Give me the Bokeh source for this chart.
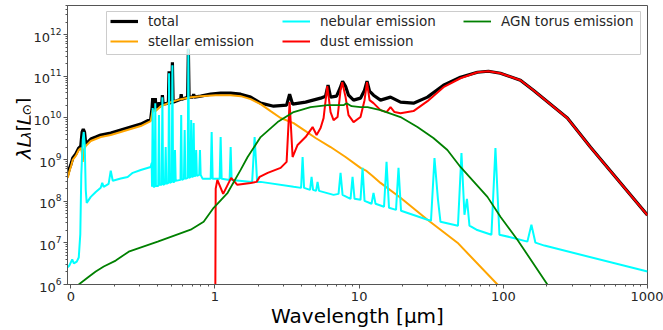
from bokeh.plotting import figure
from bokeh.layouts import row
from bokeh.models import (FixedTicker, CustomJSTickFormatter, LogTickFormatter,
                          Legend, LegendItem, Range1d, BoxAnnotation)
from bokeh.core.properties import value
from bokeh.embed import file_html
from bokeh.resources import INLINE
import math

# ---- SED components: wavelength [micron], lambda*L_lambda [L_sun] ----
wave_total = [0.0953, 0.0976, 0.1000, 0.1032, 0.1083, 0.1136, 0.1173, 0.1198, 0.1221, 0.1246,
              0.1270, 0.1376, 0.1490, 0.1614, 0.1893, 0.2221, 0.2604, 0.3056, 0.3584, 0.3660,
              0.3700, 0.3741, 0.3820, 0.3857, 0.3894, 0.4045, 0.4090, 0.4136, 0.4272, 0.4320,
              0.4368, 0.4753, 0.4806, 0.4860, 0.5011, 0.5068, 0.5125, 0.5783, 0.5832, 0.5897,
              0.6467, 0.6540, 0.6614, 0.7036, 0.7116, 0.7196, 0.7960, 0.9337, 1.095, 1.285,
              1.507, 1.768, 2.074, 2.552, 3.140, 3.294, 3.455, 4.251, 5.402, 5.850,
              6.087, 6.337, 6.970, 7.375, 7.674, 8.050, 8.440, 9.146, 10.22, 10.90,
              11.34, 11.81, 12.58, 14.07, 16.51, 19.36, 23.82, 29.79, 38.46, 50.43,
              66.14, 78.83, 95.48, 131.4, 161.7, 278.0, 401.5, 1000.0]
lum_total = [4.28e8, 5.96e8, 7.43e8, 1.09e9, 1.36e9, 1.89e9, 2.11e9, 4.57e9, 5.40e9, 4.57e9,
             2.36e9, 3.11e9, 3.47e9, 3.88e9, 4.33e9, 5.11e9, 6.03e9, 7.11e9, 9.36e9, 1.72e10,
             2.98e10, 1.72e10, 1.72e10, 2.98e10, 1.81e10, 1.91e10, 2.39e10, 1.91e10, 2.02e10, 3.51e10,
             2.14e10, 2.26e10, 1.32e11, 2.26e10, 2.39e10, 2.16e11, 2.39e10, 2.82e10, 3.71e10, 2.82e10,
             3.15e10, 4.43e11, 3.15e10, 3.15e10, 3.71e10, 3.15e10, 3.33e10, 3.71e10, 3.92e10, 3.92e10,
             3.71e10, 3.15e10, 2.26e10, 1.91e10, 2.02e10, 3.71e10, 2.14e10, 2.39e10, 2.98e10, 3.33e10,
             6.10e10, 3.15e10, 3.33e10, 5.16e10, 7.59e10, 5.77e10, 3.51e10, 2.67e10, 2.98e10, 4.62e10,
             7.59e10, 4.38e10, 3.51e10, 2.67e10, 3.15e10, 2.39e10, 2.26e10, 3.15e10, 6.10e10, 9.46e10,
             1.25e11, 1.32e11, 1.18e11, 8.02e10, 4.62e10, 9.89e9, 2.00e9, 4.60e7]

wave_stellar = [0.0953, 0.0976, 0.1000, 0.1032, 0.1083, 0.1136, 0.1173, 0.1192, 0.1211, 0.1230,
                0.1270, 0.1376, 0.1490, 0.1614, 0.1893, 0.2221, 0.2604, 0.3056, 0.3470, 0.3584,
                0.3700, 0.3880, 0.4205, 0.4941, 0.5794, 0.6796, 0.7973, 1.011, 1.285, 1.507,
                1.768, 2.074, 2.432, 2.853, 3.512, 4.251, 4.988, 6.337, 8.050, 10.22,
                11.25, 12.39, 14.07, 19.36, 29.79, 48.08, 91.03, 112.0]
lum_stellar = [3.63e8, 5.05e8, 6.65e8, 9.80e8, 1.22e9, 1.70e9, 1.89e9, 1.52e9, 8.80e8, 1.70e9,
               2.11e9, 2.79e9, 3.11e9, 3.47e9, 3.88e9, 4.57e9, 5.40e9, 6.37e9, 7.94e9, 8.38e9,
               1.54e10, 1.46e10, 1.91e10, 2.39e10, 2.82e10, 3.15e10, 3.33e10, 3.51e10, 3.51e10, 3.33e10,
               2.82e10, 2.14e10, 1.46e10, 9.96e9, 7.51e9, 4.83e9, 3.29e9, 2.00e9, 1.15e9, 6.30e8,
               5.34e8, 4.05e8, 2.75e8, 1.21e8, 3.59e7, 1.01e7, 1.00e6, 4.60e5]

wave_nebular = [0.0953, 0.0977, 0.1023, 0.1050, 0.1100, 0.1136, 0.1164, 0.1183, 0.1211, 0.1230,
                0.1250, 0.1270, 0.1290, 0.1376, 0.1490, 0.1613, 0.1653, 0.1690, 0.1830, 0.1893,
                0.1955, 0.2220, 0.2480, 0.2690, 0.3057, 0.3584, 0.3641, 0.3660, 0.3700, 0.3741,
                0.3820, 0.3857, 0.3894, 0.4045, 0.4090, 0.4136, 0.4272, 0.4320, 0.4368, 0.4501,
                0.4552, 0.4603, 0.4753, 0.4806, 0.4860, 0.5011, 0.5068, 0.5125, 0.5223, 0.5282,
                0.5342, 0.5767, 0.5832, 0.5897, 0.6096, 0.6166, 0.6235, 0.6467, 0.6540, 0.6614,
                0.6763, 0.6839, 0.6915, 0.7036, 0.7116, 0.7196, 0.7325, 0.7407, 0.7490, 0.7783,
                0.7872, 0.7960, 0.8219, 0.9337, 0.9487, 0.9640, 1.078, 1.095, 1.113, 1.264,
                1.285, 1.305, 1.811, 1.884, 1.961, 2.074, 3.512, 3.958, 4.054, 4.151,
                4.567, 4.678, 4.791, 5.026, 5.148, 5.273, 6.647, 7.197, 7.431, 7.674,
                8.717, 9.000, 9.292, 10.22, 10.56, 10.90, 12.19, 12.58, 12.99, 14.88,
                15.49, 16.11, 18.02, 18.75, 19.52, 29.79, 31.50, 33.31, 35.23, 36.66,
                48.46, 51.25, 53.76, 55.95, 58.23, 65.10, 82.71, 88.18, 93.97, 115.6,
                146.9, 156.6, 167.0, 192.7, 1000.0]
lum_nebular = [2.60e6, 2.85e6, 4.00e6, 3.20e6, 3.55e6, 4.45e6, 1.60e7, 4.30e8, 2.95e9, 4.60e9,
               2.24e9, 1.86e8, 9.10e7, 1.27e8, 1.66e8, 2.10e8, 2.75e8, 2.20e8, 2.60e8, 5.40e8,
               3.10e8, 3.50e8, 3.80e8, 4.80e8, 5.60e8, 6.65e8, 8.30e8, 2.21e8, 1.72e10, 2.21e8,
               2.21e8, 2.26e10, 2.33e8, 2.33e8, 1.17e10, 2.47e8, 2.47e8, 3.15e10, 2.47e8, 2.61e8,
               2.00e9, 2.61e8, 2.75e8, 1.18e11, 2.75e8, 2.91e8, 1.83e11, 2.91e8, 2.91e8, 1.70e9,
               3.08e8, 3.25e8, 1.17e10, 3.25e8, 3.44e8, 5.11e9, 3.44e8, 3.63e8, 4.68e11, 3.63e8,
               3.84e8, 8.85e9, 3.84e8, 3.84e8, 7.51e9, 4.05e8, 4.05e8, 1.70e9, 4.05e8, 4.28e8,
               1.70e9, 4.28e8, 3.44e8, 3.44e8, 4.57e9, 3.44e8, 3.44e8, 3.47e9, 3.44e8, 3.25e8,
               2.00e9, 3.25e8, 2.91e8, 3.47e9, 2.91e8, 2.91e8, 2.21e8, 2.09e8, 1.15e9, 2.09e8,
               1.87e8, 3.84e8, 1.87e8, 1.77e8, 2.91e8, 1.77e8, 1.42e8, 1.50e8, 4.78e8, 1.42e8,
               1.14e8, 3.84e8, 1.14e8, 1.08e8, 6.30e8, 1.02e8, 8.70e7, 1.59e8, 8.70e7, 7.35e7,
               8.80e8, 6.95e7, 6.20e7, 6.30e8, 5.90e7, 3.59e7, 3.40e7, 1.09e9, 1.08e8, 3.20e7,
               2.58e7, 1.44e9, 4.73e7, 1.14e8, 2.58e7, 2.07e7, 1.57e7, 1.89e9, 1.57e7, 1.33e7,
               1.07e7, 2.72e7, 1.01e7, 8.60e6, 2.05e6]

wave_dust = [0.999, 1.012, 1.039, 1.140, 1.295, 1.429, 1.768, 1.945, 2.041, 2.322,
             2.853, 3.140, 3.294, 3.455, 3.742, 4.251, 4.755, 5.070, 5.402, 5.667,
             6.011, 6.337, 6.647, 7.085, 7.431, 7.637, 8.050, 8.440, 9.146, 10.22,
             10.90, 11.34, 11.81, 12.58, 14.07, 15.49, 16.51, 17.59, 19.36, 23.82,
             29.79, 38.46, 50.43, 66.14, 78.83, 95.48, 131.4, 161.7, 278.0, 401.5,
             1000.0]
lum_dust = [1.0e3, 2.00e8, 3.25e8, 1.50e8, 3.63e8, 2.47e8, 2.75e8, 2.91e8, 3.84e8, 4.78e8,
            6.30e8, 8.80e8, 2.39e10, 1.15e9, 2.24e9, 3.47e9, 6.03e9, 3.88e9, 5.70e9, 9.89e9,
            5.77e10, 1.38e10, 8.85e9, 1.05e10, 4.62e10, 7.18e10, 3.15e10, 1.17e10, 7.94e9, 1.05e10,
            2.67e10, 7.18e10, 2.67e10, 2.26e10, 1.54e10, 1.38e10, 1.81e10, 1.38e10, 1.30e10, 1.46e10,
            2.52e10, 5.46e10, 8.96e10, 1.25e11, 1.32e11, 1.18e11, 8.02e10, 4.62e10, 9.89e9, 2.00e9,
            4.60e7]

wave_agn = [0.1000, 0.1136, 0.1312, 0.1490, 0.1693, 0.2050, 0.2523, 0.4008, 0.6785, 0.8348,
            0.9795, 1.225, 1.507, 1.685, 2.074, 2.720, 3.512, 4.606, 6.039, 7.798,
            8.178, 8.858, 10.22, 11.43, 14.07, 19.36, 25.37, 32.73, 40.93, 50.43,
            77.60, 95.48, 125.2, 202.1, 248.7]
lum_agn = [7.2e5, 1.00e6, 1.47e6, 2.05e6, 2.70e6, 3.75e6, 6.15e6, 1.07e7, 2.07e7, 3.21e7,
           6.95e7, 1.59e8, 5.64e8, 1.15e9, 3.47e9, 7.94e9, 1.38e10, 1.81e10, 2.02e10, 2.02e10,
           2.26e10, 1.91e10, 1.81e10, 1.81e10, 1.54e10, 1.05e10, 6.03e9, 3.29e9, 1.70e9, 6.65e8,
           1.27e8, 4.24e7, 1.19e7, 1.00e6, 3.3e5]

x_major = [0.1, 1, 10, 100, 1000]
y_major = [1e6, 1e7, 1e8, 1e9, 1e10, 1e11, 1e12]

FONT = "DejaVu Sans"
AXIS_GREY = "#555555"
TEXT_DARK = "#262626"
LABEL_W = 34          # width of the strip that carries the y-axis title
OVERLAP = 4           # the strip's blank right edge tucks under the main panel's border

# ---------------- main SED panel ----------------
p = figure(width=663 - LABEL_W + OVERLAP, height=330, x_axis_type="log", y_axis_type="log",
           x_range=Range1d(0.0949, 1000), y_range=Range1d(1e6, 5.0e12),
           output_backend="svg", toolbar_location=None,
           min_border_left=67 - LABEL_W + OVERLAP, min_border_right=16,
           min_border_top=5, min_border_bottom=45)

p.grid.grid_line_color = None
p.outline_line_color = AXIS_GREY
p.background_fill_color = "white"
p.border_fill_color = "white"

r_total = p.line(wave_total, lum_total, line_color="black", line_width=3.2)
r_stellar = p.line(wave_stellar, lum_stellar, line_color="orange", line_width=2)
r_nebular = p.line(wave_nebular, lum_nebular, line_color="cyan", line_width=2)
r_dust = p.line(wave_dust, lum_dust, line_color="red", line_width=2)
r_agn = p.line(wave_agn, lum_agn, line_color="green", line_width=1.8)

x_minor = [k * m for m in x_major[:-1] for k in range(2, 10)]
y_minor = [k * m for m in y_major for k in range(2, 10)]
p.xaxis.ticker = FixedTicker(ticks=x_major, minor_ticks=x_minor)
p.yaxis.ticker = FixedTicker(ticks=y_major, minor_ticks=y_minor)
p.xaxis.formatter = CustomJSTickFormatter(code="return tick < 0.5 ? '0' : tick.toFixed(0);")
p.yaxis.formatter = LogTickFormatter()

for ax in (p.xaxis[0], p.yaxis[0]):
    ax.axis_line_color = AXIS_GREY
    ax.major_tick_line_color = AXIS_GREY
    ax.minor_tick_line_color = AXIS_GREY
    ax.major_tick_in = 0
    ax.major_tick_out = 4
    ax.minor_tick_in = 0
    ax.minor_tick_out = 2
    ax.major_label_text_font = FONT
    ax.major_label_text_font_size = "13px"
    ax.major_label_text_color = TEXT_DARK
    ax.major_label_standoff = 3
p.yaxis.major_label_standoff = 2

p.xaxis.axis_label = "Wavelength [μm]"
p.xaxis.axis_label_text_font = FONT
p.xaxis.axis_label_text_font_size = "20px"
p.xaxis.axis_label_text_font_style = "normal"
p.xaxis.axis_label_text_color = "black"
p.xaxis.axis_label_standoff = 0

# legend frame (screen units are relative to the plot frame, y measured upward)
p.add_layout(BoxAnnotation(left=39, right=573, top=273, bottom=230,
                           left_units="screen", right_units="screen",
                           top_units="screen", bottom_units="screen",
                           fill_color="white", fill_alpha=0.8,
                           line_color="#cccccc", line_width=1, line_alpha=1.0))

legend_style = dict(label_text_font=FONT, label_text_font_size="13.5px",
                    label_text_color=TEXT_DARK, glyph_width=28, glyph_height=18,
                    label_height=18, label_standoff=10, spacing=2, padding=0, margin=0,
                    border_line_color=None, background_fill_alpha=0.0,
                    orientation="vertical")
legend_cols = [
    ([("total", r_total), ("stellar emission", r_stellar)], (43, 234)),
    ([("nebular emission", r_nebular), ("dust emission", r_dust)], (215, 234)),
    ([("AGN torus emission", r_agn)], (396, 254)),
]
for entries, loc in legend_cols:
    leg = Legend(items=[LegendItem(label=lab, renderers=[r]) for lab, r in entries],
                 location=loc, **legend_style)
    p.add_layout(leg, "center")

# ---------------- y-axis title strip ----------------
t = figure(width=LABEL_W, height=330, x_range=Range1d(0, LABEL_W), y_range=Range1d(0, 330),
           output_backend="svg", toolbar_location=None,
           x_axis_location=None, y_axis_location=None,
           min_border_left=0, min_border_right=0, min_border_top=0, min_border_bottom=0,
           margin=(0, -OVERLAP, 0, 0))
t.grid.grid_line_color = None
t.outline_line_color = None
t.background_fill_color = "white"
t.border_fill_color = "white"

# lambda L_lambda [L_sun], written bottom-to-top with lowered subscripts
title_parts = [("λL", 23.0, 148, "20px", "italic"),
               ("λ", 26.0, 171.5, "14px", "italic"),
               ("[", 23.0, 181, "20px", "normal"),
               ("L", 23.0, 188.5, "20px", "italic"),
               ("⊙", 26.0, 200, "14px", "normal"),
               ("]", 23.0, 212, "20px", "normal")]
for txt, tx, ty, size, style in title_parts:
    t.text(x=[tx], y=[ty], text=[txt], angle=math.pi / 2,
           text_font=value(FONT), text_font_size=size, text_font_style=style,
           text_color="black", text_align="left", text_baseline="alphabetic")

layout = row(t, p, spacing=0)
open("out.html", "w").write(file_html(layout, INLINE))
